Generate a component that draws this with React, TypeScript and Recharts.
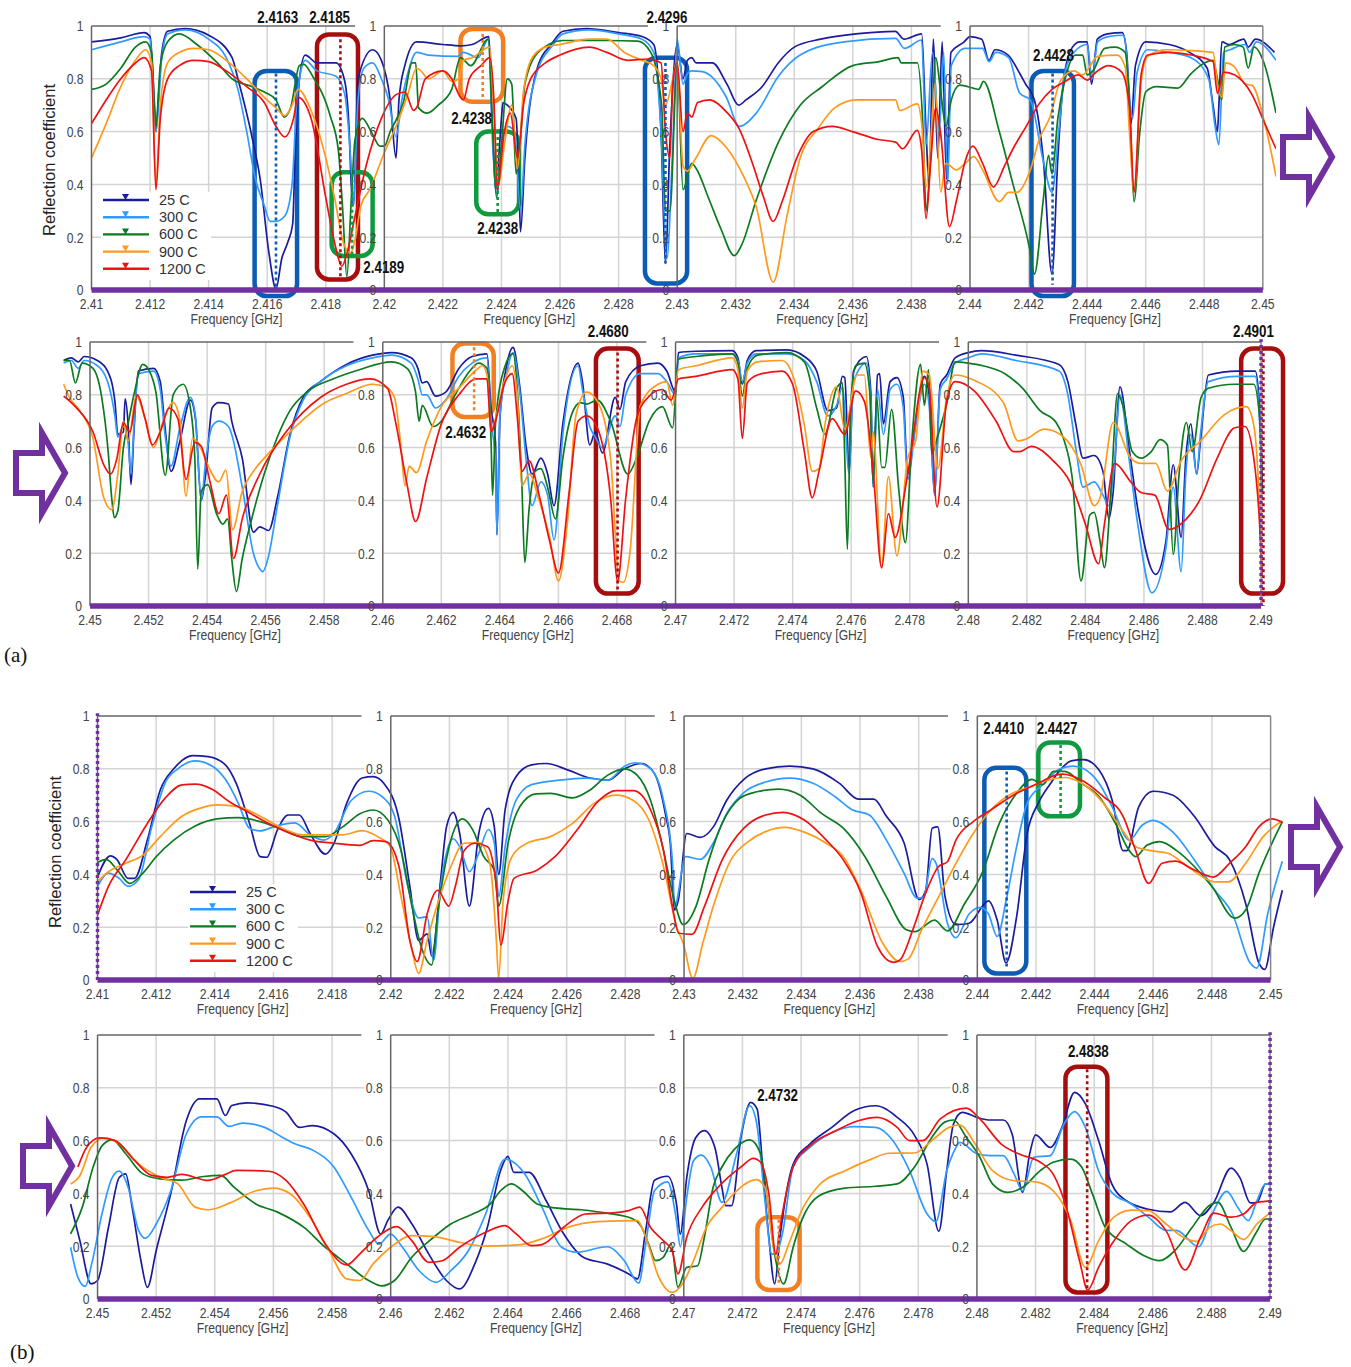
import React from 'react';
import { LineChart, Line, XAxis, YAxis, ReferenceLine, ReferenceArea, ReferenceDot, Legend } from 'recharts';

// frequencies are MHz above 2400, so 12.2 reads as 2.4122 GHz
const a1_25 = [10,.94,11,.955,11.8,.975,12,.96,12.15,.7,12.2,.6,12.3,.75,12.4,.9,12.6,.98,13.2,.99,14,.965,14.8,.88,15,.8,15.5,.57,15.76,.42,16.06,.14,16.3,.005,16.5,.12,16.7,.18,16.87,.25,16.95,.5,17.1,.8,17.3,.89,17.7,.86,18.35,.86,18.65,.79,18.8,.6,18.87,.4,18.95,.32,19.1,.8,19.6,.91,19.9,.87,20.2,.72,20.4,.5,20.5,.72,20.7,.85,21.1,.94,22,.93,22.6,.925,23,.93,23.57,.96,23.7,.6,23.8,.38,24,.65,24.05,.71,24.2,.7,24.5,.65,24.6,.4,24.65,.22,24.8,.5,25.25,.85,25.7,.93,26.1,.98,26.9,.99,28,.975,28.8,.96,29.2,.93,29.45,.6,29.6,.1,29.75,.55,30,.93,30.2,.8,30.35,.87,30.5,.88,30.65,.86,31.2,.86,31.7,.78,32.1,.7,32.35,.72,32.9,.77,33.45,.86,34,.92,34.9,.95,36.1,.97,37.45,.98,37.75,.95,38.35,.97,38.5,.6,38.6,.4,38.75,.95,38.9,.5,39.05,.94,39.2,.42,39.35,.9,39.8,.94,40,.96,40.4,.95,40.65,.87,40.85,.91,41.3,.89,41.7,.82,41.9,.78,42.2,.72,42.5,.5,42.8,.06,43,.5,43.2,.8,43.5,.92,43.75,.94,44,.94,44.15,.78,44.35,.95,44.7,.97,45.2,.975,45.35,.9,45.5,.63,45.65,.85,46,.94,46.8,.93,47.5,.9,48.1,.84,48.3,.7,48.45,.6,48.5,.7,48.6,.94,48.85,.93,49.35,.95,49.5,.92,49.75,.95,50.4,.9];
const a1_300 = [10,.91,11,.94,11.8,.96,12,.95,12.2,.6,12.4,.88,12.6,.97,13.2,.985,14,.95,14.6,.88,15,.76,15.3,.6,15.6,.42,15.9,.32,16.1,.26,16.3,.26,16.6,.28,16.85,.4,17,.7,17.15,.83,17.3,.87,17.7,.83,18.35,.81,18.65,.74,18.85,.5,18.95,.32,19.1,.72,19.3,.84,19.6,.86,19.9,.8,20.15,.72,20.4,.58,20.6,.72,20.8,.82,21.1,.9,21.5,.89,22.5,.885,22.7,.9,23.2,.88,23.55,.95,23.7,.55,23.85,.36,24,.55,24.2,.62,24.45,.6,24.65,.3,24.8,.55,25.2,.82,25.7,.92,26.1,.97,27,.985,28,.97,28.8,.95,29.2,.9,29.45,.6,29.65,.12,29.85,.55,30,.95,30.2,.78,30.35,.82,30.5,.83,30.86,.827,31.68,.73,32.12,.62,32.7,.67,33.46,.81,34.2,.89,35.7,.94,37.46,.953,37.76,.915,38.35,.947,38.5,.55,38.72,.9,38.95,.6,39.1,.9,39.24,.4,39.36,.85,39.84,.915,40.43,.915,40.65,.865,40.88,.9,41.32,.88,41.7,.745,42.06,.72,42.5,.49,42.8,.37,43.03,.6,43.25,.83,43.55,.9,44,.93,44.17,.8,44.36,.94,44.73,.96,45.25,.965,45.55,.65,45.7,.82,46.07,.91,46.8,.9,47.55,.88,48.15,.8,48.37,.62,48.5,.55,48.66,.9,48.88,.91,49.4,.93,49.55,.9,49.78,.94,50.45,.87];
const a1_600 = [10,.76,10.5,.78,11,.84,11.5,.92,11.85,.94,12.05,.9,12.2,.62,12.35,.85,12.6,.94,13,.97,13.6,.93,14.3,.86,14.8,.8,15.5,.77,15.9,.75,16.3,.72,16.58,.655,16.8,.69,17.1,.85,17.25,.855,17.55,.81,18.15,.66,18.43,.53,18.58,.3,18.72,.05,18.87,.34,19,.57,19.25,.65,19.55,.6,19.85,.545,20,.545,20.2,.6,20.65,.71,20.95,.86,21.07,.86,21.17,.69,21.47,.67,21.84,.7,22.3,.76,22.6,.88,22.95,.85,23.55,.95,23.7,.6,23.83,.35,24,.55,24.2,.8,24.35,.78,24.5,.44,24.6,.5,24.8,.78,25.25,.9,26.1,.945,27.6,.945,28.65,.943,29.1,.9,29.47,.7,29.6,.3,29.75,.3,30,.85,30.2,.38,30.5,.48,30.65,.46,31.1,.34,31.5,.23,31.95,.13,32.2,.17,32.7,.34,33.46,.56,34.2,.7,34.95,.77,36,.85,36.9,.865,37.55,.88,37.65,.86,38.2,.86,38.4,.6,38.5,.3,38.65,.5,38.83,.88,39,.75,39.18,.62,39.36,.72,39.65,.776,40.13,.764,40.3,.76,40.46,.79,41,.6,41.47,.4,42.03,.16,42.2,.06,42.5,.34,42.68,.51,42.8,.44,43,.65,43.25,.8,43.6,.89,43.85,.89,44,.815,44.2,.83,44.6,.915,44.95,.92,45.3,.9,45.45,.7,45.6,.335,45.8,.6,46,.75,46.37,.77,47.1,.765,47.55,.82,48.3,.87,48.45,.8,48.6,.72,48.7,.92,49.03,.93,49.33,.92,49.5,.84,49.7,.92,50.07,.85,50.45,.67];
const a1_900 = [10,.5,10.5,.63,11,.77,11.5,.87,11.85,.91,12.05,.86,12.2,.4,12.35,.7,12.6,.86,13,.9,13.5,.915,14,.91,14.6,.87,15.3,.8,15.9,.73,16.3,.69,16.6,.66,16.85,.7,17.05,.76,17.5,.68,18,.5,18.3,.35,18.6,.18,18.85,.14,19,.19,19.2,.32,19.5,.38,20,.52,20.4,.62,20.8,.74,21.1,.84,21.25,.83,21.5,.8,22,.83,22.3,.79,22.55,.8,22.7,.87,23,.88,23.6,.92,23.75,.65,23.9,.4,24.1,.55,24.35,.7,24.55,.46,24.75,.75,25.05,.88,25.5,.92,26,.93,27,.95,27.6,.95,28.2,.9,28.8,.87,29.2,.85,29.45,.8,29.6,.7,29.85,.8,30,.87,30.2,.47,30.35,.45,30.64,.5,31.16,.585,31.68,.54,32.27,.43,32.7,.315,33.28,.03,33.75,.28,34.2,.5,34.8,.61,35.38,.69,36.13,.72,37.46,.72,37.6,.68,38.2,.705,38.35,.63,38.5,.39,38.65,.55,38.8,.78,39,.37,39.17,.48,39.54,.455,39.84,.48,40.13,.505,40.43,.455,41,.335,41.32,.37,41.6,.37,42.06,.455,42.36,.57,42.73,.655,43.1,.795,43.55,.83,43.85,.815,44.36,.885,45.03,.89,45.3,.845,45.45,.59,45.6,.37,45.85,.795,46.07,.885,46.67,.91,47.55,.907,48.3,.9,48.45,.78,48.6,.73,48.73,.86,49.03,.845,49.4,.78,49.63,.775,50.07,.63,50.45,.43];
const a1_1200 = [10,.63,10.5,.72,11,.8,11.5,.86,11.8,.88,12.05,.83,12.2,.38,12.35,.65,12.6,.8,13,.85,13.5,.87,14,.865,14.6,.83,15.3,.77,15.9,.71,16.3,.62,16.6,.58,16.9,.65,17.05,.73,17.5,.65,18,.35,18.3,.18,18.55,.09,18.75,.15,19,.28,19.4,.48,19.9,.65,20.4,.74,20.7,.75,21,.68,21.1,.69,21.4,.8,22,.83,22.3,.8,22.6,.73,22.7,.72,22.9,.8,23.3,.85,23.6,.88,23.75,.7,23.85,.38,24.1,.6,24.3,.67,24.55,.5,24.75,.7,25,.8,25.5,.86,26,.89,27,.92,27.6,.9,28.3,.87,29,.875,29.45,.86,29.6,.6,29.75,.5,29.85,.78,30,.86,30.2,.6,30.35,.67,30.5,.655,30.7,.71,31.1,.72,31.68,.675,32.12,.61,32.57,.48,32.94,.355,33.28,.26,33.6,.34,34.05,.49,34.65,.6,35.3,.62,35.98,.6,36.87,.57,37.46,.56,37.7,.535,38.2,.605,38.35,.53,38.5,.27,38.65,.47,38.83,.69,39,.59,39.3,.24,39.54,.34,39.84,.49,40.1,.545,40.43,.48,40.8,.39,41.18,.47,41.47,.535,41.92,.62,42.36,.705,42.8,.76,43.25,.79,43.7,.815,44,.795,44.3,.825,44.73,.85,45.18,.825,45.45,.69,45.6,.37,45.85,.82,46.07,.89,46.8,.9,47.55,.89,48.3,.865,48.45,.745,48.66,.825,49.03,.815,49.63,.74,50.07,.63,50.45,.535];

const a2_25 = [49.1,.93,49.36,.94,49.6,.925,49.8,.945,50.25,.93,50.6,.89,50.85,.775,50.95,.65,51.14,.66,51.2,.785,51.3,.69,51.4,.46,51.5,.66,51.65,.89,52.17,.9,52.4,.85,52.55,.69,52.77,.51,53.06,.62,53.43,.78,53.6,.71,53.8,.4,53.95,.5,54.17,.75,54.4,.77,54.73,.765,54.84,.7,55.2,.56,55.58,.28,55.8,.3,56.1,.286,56.4,.41,56.83,.65,57.28,.79,57.87,.85,58.76,.915,59.65,.95,60.3,.96,60.97,.94,61.2,.9,61.35,.845,61.5,.85,61.8,.795,62.15,.81,62.6,.9,63.05,.945,63.56,.955,63.7,.75,63.85,.62,63.9,.27,64,.71,64.23,.91,64.45,.98,64.67,.84,64.9,.6,65.1,.5,65.4,.56,65.63,.5,65.85,.38,66.15,.69,66.67,.92,66.82,.85,67.07,.61,67.26,.66,67.5,.58,67.94,.79,68.1,.745,68.3,.85,68.8,.91,69.4,.92,69.7,.89,70,.81,70.1,.96,70.7,.965,71.94,.967,72.13,.94,72.28,.84,72.45,.93,72.75,.967,73.8,.97,74.4,.945,74.82,.89,75.2,.74,75.5,.75,75.7,.87,75.78,.865,75.93,.51,76.08,.89,76.52,.945,76.67,.81,76.75,.45,76.9,.875,76.97,.88,77.1,.69,77.33,.85,77.56,.865,77.78,.79,77.93,.5,78.2,.69,78.5,.87,78.67,.79,78.85,.42,79.04,.84,79.26,.875,79.55,.94,80,.96,80.45,.967,81.63,.95,83.1,.915,83.4,.85,83.67,.69,83.92,.56,84.3,.57,84.6,.51,84.8,.33,84.95,.435,85.18,.83,85.5,.59,85.8,.36,86.4,.12,86.75,.245,87,.535,87.27,.26,87.43,.56,87.6,.69,87.8,.5,87.93,.625,88.2,.875,89.2,.89,89.8,.89,89.95,.75,90.03,.43];
const a2_300 = [49.1,.92,49.36,.93,49.6,.9,49.8,.93,50.25,.91,50.6,.85,50.85,.72,50.95,.64,51.14,.68,51.3,.62,51.4,.5,51.5,.68,51.65,.88,52.17,.89,52.4,.82,52.55,.66,52.77,.53,53.06,.67,53.43,.79,53.6,.72,53.8,.4,53.95,.55,54.17,.68,54.4,.7,54.73,.68,54.84,.65,55.2,.45,55.58,.2,55.8,.14,55.9,.13,56.1,.19,56.4,.38,56.83,.64,57.28,.78,57.87,.85,58.76,.91,59.65,.94,60.3,.95,60.97,.92,61.2,.86,61.35,.8,61.5,.8,61.8,.75,62.15,.78,62.6,.87,63.05,.92,63.56,.94,63.7,.7,63.85,.55,63.9,.27,64,.72,64.23,.88,64.45,.96,64.67,.82,64.9,.55,65.1,.38,65.4,.47,65.63,.42,65.85,.25,66.15,.65,66.67,.91,66.82,.82,67.07,.68,67.26,.64,67.5,.6,67.94,.72,68.1,.68,68.3,.8,68.8,.88,69.4,.88,69.7,.85,70,.8,70.1,.94,70.7,.955,71.94,.955,72.13,.93,72.28,.85,72.45,.92,72.75,.955,73.8,.955,74.4,.93,74.82,.85,75.2,.72,75.5,.76,75.7,.83,75.93,.5,76.08,.85,76.52,.92,76.67,.78,76.75,.45,76.9,.82,77.1,.65,77.33,.82,77.56,.84,77.78,.75,77.93,.48,78.2,.68,78.5,.84,78.67,.75,78.85,.42,79.04,.82,79.26,.86,79.55,.92,80,.94,80.45,.955,81.63,.93,83.1,.89,83.4,.8,83.67,.6,83.92,.45,84.3,.47,84.6,.42,84.8,.38,85,.55,85.18,.8,85.5,.55,85.8,.3,86.27,.05,86.75,.22,87,.45,87.27,.13,87.43,.5,87.6,.65,87.8,.5,87.93,.65,88.2,.85,89.2,.87,89.8,.87,89.95,.7,90.03,.43];
const a2_600 = [49.1,.93,49.3,.93,49.5,.845,49.73,.92,50.1,.9,50.4,.79,50.62,.585,50.74,.41,50.83,.335,50.95,.36,51.14,.6,51.3,.69,51.5,.8,51.8,.915,52.03,.89,52.25,.81,52.57,.495,52.84,.8,53.18,.84,53.43,.75,53.58,.56,53.68,.14,53.8,.435,54.02,.46,54.32,.35,54.54,.31,54.7,.33,54.84,.18,55,.055,55.2,.18,55.5,.32,55.95,.5,56.4,.64,56.83,.74,57.4,.81,58.3,.86,59.2,.895,60.3,.925,60.83,.9,61.12,.81,61.24,.7,61.35,.76,61.72,.68,62,.7,62.45,.795,62.97,.89,63.27,.92,63.56,.9,63.7,.62,63.75,.42,63.85,.69,64.15,.9,64.45,.955,64.6,.81,64.75,.46,64.85,.165,65,.37,65.2,.51,65.4,.52,65.63,.45,65.9,.33,66.15,.56,66.45,.725,66.75,.77,66.97,.765,67.33,.78,67.78,.7,68.37,.5,68.67,.56,69.1,.7,69.55,.755,69.9,.675,70.1,.935,70.7,.945,71.94,.955,72.13,.92,72.28,.795,72.45,.9,72.8,.95,73.8,.96,74.4,.925,74.82,.75,75.1,.65,75.5,.825,75.7,.845,75.78,.56,75.87,.215,75.98,.75,76.15,.91,76.45,.92,76.63,.815,76.75,.465,76.87,.79,77.04,.525,77.15,.525,77.38,.745,77.63,.435,77.85,.24,78.07,.625,78.37,.915,78.5,.76,78.64,.895,78.75,.575,78.96,.645,79.26,.765,79.55,.925,80,.92,80.5,.91,81.25,.88,81.85,.825,82.45,.74,83,.695,83.25,.635,83.55,.485,83.85,.095,84.15,.345,84.3,.355,84.5,.245,84.65,.145,84.87,.435,85.1,.805,85.3,.75,85.6,.585,85.9,.56,86.25,.585,86.55,.63,86.8,.61,87,.195,87.2,.5,87.45,.695,87.65,.585,87.95,.79,88.2,.825,89.1,.84,89.75,.84,89.97,.685,90.05,.435];
const a2_900 = [49.1,.84,49.3,.79,49.65,.74,50.1,.635,50.47,.41,50.74,.365,50.95,.5,51.14,.7,51.3,.625,51.58,.795,51.88,.71,52.17,.6,52.47,.69,52.84,.77,53.06,.71,53.28,.415,53.5,.635,53.73,.61,54.02,.535,54.4,.47,54.64,.515,54.87,.29,55.2,.435,55.58,.51,55.95,.56,56.83,.66,58.02,.77,58.76,.805,59.65,.84,60.1,.83,60.4,.79,60.6,.625,60.76,.455,60.9,.53,61.15,.505,61.5,.625,62,.755,62.6,.825,63.2,.895,63.4,.91,63.56,.875,63.7,.66,63.85,.71,64.15,.85,64.42,.91,64.6,.79,64.75,.455,65,.5,65.34,.4,65.7,.26,66,.095,66.3,.31,66.6,.725,66.97,.81,67.33,.775,67.78,.56,68.08,.095,68.22,.09,68.45,.21,68.8,.76,69.4,.84,69.7,.85,69.9,.76,70.1,.895,70.7,.91,71.94,.94,72.13,.895,72.28,.75,72.45,.89,72.8,.925,73.64,.93,74,.875,74.4,.685,74.67,.51,74.9,.52,75.1,.685,75.5,.83,75.78,.67,76.2,.875,76.45,.875,76.67,.56,76.75,.66,77.04,.145,77.27,.49,77.56,.19,77.93,.56,78.2,.625,78.45,.89,78.67,.875,78.96,.52,79.26,.79,79.55,.875,80.2,.855,81.2,.77,81.7,.625,81.92,.63,82.6,.67,83.2,.645,83.85,.535,84.3,.38,84.5,.41,84.95,.695,85.55,.56,85.9,.54,86.4,.54,86.8,.435,87.27,.55,87.93,.625,88.75,.725,89.5,.755,89.75,.685,89.95,.37,90.03,.12];
const a2_1200 = [49.1,.795,49.5,.755,50.1,.66,50.47,.535,50.7,.5,50.92,.56,51.14,.695,51.36,.66,51.62,.8,51.88,.71,52.13,.61,52.4,.66,52.7,.75,53,.71,53.28,.48,53.58,.62,53.8,.605,54.1,.47,54.4,.35,54.66,.42,54.9,.18,55.2,.33,55.8,.5,56.7,.66,57.87,.79,58.76,.84,59.57,.86,60.16,.825,60.45,.69,60.83,.46,61.12,.32,61.5,.485,62,.69,62.6,.8,63.2,.86,63.56,.86,63.7,.66,63.85,.7,64.15,.84,64.42,.88,64.6,.71,64.75,.51,65,.55,65.34,.42,65.7,.245,66,.125,66.37,.435,66.67,.7,66.97,.72,67.33,.675,67.78,.41,68.02,.095,68.3,.41,68.67,.71,69.1,.795,69.55,.82,69.85,.78,70.1,.86,70.7,.87,71.94,.895,72.13,.86,72.28,.635,72.45,.845,72.8,.875,73.64,.89,74,.84,74.4,.585,74.67,.41,74.9,.51,75.35,.71,75.78,.65,76.15,.815,76.45,.775,76.75,.51,77.04,.145,77.27,.35,77.5,.26,77.93,.5,78.5,.865,78.67,.825,78.93,.375,79.26,.775,79.55,.85,80.2,.815,80.95,.7,81.55,.585,81.77,.585,82.15,.605,82.9,.55,83.47,.47,84,.31,84.45,.16,84.65,.31,85,.54,85.55,.47,85.9,.43,86.37,.42,86.85,.29,87.45,.33,87.9,.4,88.5,.56,89.1,.675,89.45,.68,89.75,.56,89.95,.31,90.03,.12];

const b1_25 = [10,.39,10.44,.47,10.67,.455,11.04,.385,11.26,.385,11.7,.53,12.14,.72,12.6,.8,13.25,.85,13.77,.846,14.36,.815,14.73,.745,15.18,.595,15.55,.467,15.77,.465,16.14,.57,16.5,.625,16.88,.625,17.25,.555,17.77,.477,18.06,.517,18.5,.67,19.02,.765,19.4,.77,19.76,.745,20.28,.61,20.65,.355,20.95,.15,21.24,.175,21.4,.09,21.7,.38,21.9,.58,22.13,.635,22.35,.555,22.68,.28,23,.555,23.33,.65,23.53,.58,23.68,.4,23.9,.645,24.27,.77,24.8,.815,25.3,.82,26.05,.795,26.8,.765,27.4,.757,27.97,.8,28.56,.82,29,.78,29.38,.62,29.53,.52,29.67,.265,29.8,.3,30.09,.555,30.56,.54,31,.58,31.45,.68,32.04,.76,32.78,.8,33.6,.81,34.4,.8,35.3,.745,35.95,.685,36.47,.685,36.9,.62,37.5,.52,38.02,.305,38.24,.34,38.46,.575,38.65,.58,38.9,.315,39.27,.21,39.72,.215,40.38,.3,40.68,.225,40.98,.065,41.34,.24,41.7,.555,42.08,.67,42.5,.745,42.82,.795,43.2,.83,43.63,.835,44.15,.795,44.6,.68,44.97,.49,45.1,.49,45.5,.655,46,.715,46.67,.7,47.4,.62,48.1,.505,48.6,.455,49.15,.29,49.6,.065,49.8,.04,50.1,.2,50.4,.34];
const b1_300 = [10,.355,10.37,.405,10.74,.385,11.04,.355,11.4,.38,11.85,.58,12.3,.745,12.74,.8,13.33,.83,13.92,.81,14.36,.76,14.8,.67,15.18,.575,15.55,.565,16,.58,16.73,.595,17.25,.55,17.7,.53,18.06,.555,18.65,.68,19.25,.715,19.7,.695,20.13,.62,20.58,.355,20.95,.235,21.24,.24,21.46,.075,21.7,.355,22.13,.535,22.35,.505,22.68,.41,23,.48,23.33,.57,23.53,.52,23.68,.315,23.9,.505,24.27,.68,24.8,.74,25.75,.757,26.65,.765,27.4,.757,27.97,.81,28.34,.823,28.86,.8,29.3,.68,29.6,.455,29.68,.28,30.05,.467,30.56,.457,31,.52,31.45,.63,32.04,.71,32.78,.75,33.6,.765,34.4,.745,35.14,.695,35.73,.645,36.32,.625,36.9,.53,37.5,.405,37.95,.31,38.17,.315,38.46,.46,38.6,.44,38.98,.215,39.27,.16,39.72,.25,40.1,.275,40.38,.25,40.68,.165,40.98,.3,41.34,.505,41.7,.67,42.23,.74,42.82,.8,43.27,.81,43.63,.8,44.15,.745,44.6,.655,45.18,.53,45.63,.587,46,.605,46.67,.56,47.4,.455,48.1,.34,48.7,.25,49.3,.065,49.53,.045,49.9,.25,50.4,.45];
const b1_600 = [10,.445,10.3,.457,10.67,.417,11.1,.366,11.55,.405,12,.467,12.6,.53,13.33,.583,14.07,.61,14.8,.615,15.55,.6,16.3,.57,17,.543,17.77,.543,18.36,.58,18.95,.63,19.4,.644,19.9,.606,20.35,.49,20.72,.28,21,.14,21.4,.057,21.6,.25,22.05,.53,22.45,.61,22.8,.568,23.17,.467,23.53,.417,23.68,.28,24,.518,24.4,.656,24.95,.705,25.45,.707,26.2,.69,26.8,.72,27.4,.776,27.97,.8,28.4,.776,28.86,.68,29.3,.49,29.67,.3,29.97,.21,30.41,.28,30.85,.455,31.3,.593,31.9,.688,32.48,.713,33.22,.723,33.96,.7,34.7,.63,35.43,.575,36.17,.467,36.9,.315,37.58,.19,37.87,.183,38.54,.227,38.98,.186,39.57,.29,40.16,.404,40.75,.593,41.34,.707,41.86,.76,42.23,.74,42.6,.79,42.97,.79,43.56,.745,44.15,.695,44.74,.587,45.18,.49,45.4,.467,45.78,.51,46.22,.524,46.8,.49,47.4,.43,48,.354,48.78,.234,49.15,.265,49.6,.404,50.4,.6];
const b1_900 = [10,.372,10.37,.41,10.96,.442,11.55,.473,12.14,.543,12.88,.62,13.48,.65,14.07,.663,14.8,.657,15.55,.62,16.3,.575,17,.55,17.77,.55,18.36,.55,19.02,.566,19.55,.543,19.98,.505,20.35,.315,20.72,.114,20.95,.025,21.24,.15,21.6,.29,22.05,.43,22.5,.518,23,.52,23.38,.44,23.6,.15,23.68,.006,23.83,.3,24.13,.467,24.65,.518,25.45,.543,26.2,.593,26.94,.67,27.68,.7,28.27,.68,28.8,.606,29.3,.43,29.75,.2,29.97,.14,30.3,.006,30.64,.14,31,.28,31.6,.455,32.19,.524,32.78,.562,33.44,.578,34.1,.56,34.85,.518,35.43,.467,36.03,.34,36.77,.14,37.36,.07,37.65,.08,38.1,.19,38.68,.315,39.27,.442,39.86,.555,40.46,.644,41.2,.707,41.8,.732,42.38,.757,42.97,.767,43.56,.745,44.3,.67,44.9,.575,45.4,.505,45.92,.49,46.5,.48,47.25,.423,48.1,.372,48.56,.372,49.15,.442,49.75,.543,50.4,.603];
const b1_1200 = [10,.246,10.37,.354,10.96,.455,11.7,.593,12.3,.688,12.88,.739,13.33,.742,13.92,.722,14.5,.675,15.1,.638,15.84,.593,16.58,.555,17.25,.53,18.06,.518,18.95,.51,19.4,.528,19.84,.524,20.28,.43,20.65,.15,20.9,.07,21.24,.25,21.6,.34,21.98,.28,22.2,.354,22.5,.49,22.87,.518,23.3,.505,23.6,.354,23.75,.133,24,.3,24.2,.385,25,.417,25.6,.467,26.35,.568,27.1,.68,27.68,.717,28.27,.717,28.86,.644,29.3,.49,29.6,.28,29.82,.177,30.27,.173,30.7,.28,31.3,.455,32.04,.575,32.78,.625,33.37,.635,34.1,.606,34.85,.53,35.43,.455,36.03,.33,36.6,.126,37.13,.067,37.36,.076,37.8,.19,38.24,.33,38.68,.43,38.98,.448,39.27,.53,39.86,.6,40.46,.644,41.34,.707,42.08,.745,42.67,.776,42.9,.78,43.56,.757,44.3,.695,44.97,.62,45.4,.49,45.84,.366,46.3,.442,46.75,.45,47.4,.417,48.05,.39,48.6,.442,49.15,.505,49.6,.58,50.05,.61,50.4,.597];

const b2_25 = [49.08,.36,49.4,.22,49.78,.057,50,.07,50.37,.27,50.74,.46,50.96,.474,51.18,.348,51.48,.145,51.7,.044,52,.183,52.5,.4,53.03,.676,53.48,.758,54.07,.758,54.36,.695,54.58,.733,55.1,.743,55.99,.73,56.43,.708,56.88,.65,57.32,.657,58.06,.626,58.65,.55,59.25,.41,59.66,.246,59.9,.297,60.25,.348,60.72,.285,61.3,.17,61.9,.07,62.35,.038,62.87,.133,63.3,.272,63.75,.487,64,.54,64.2,.48,64.72,.48,65.3,.373,65.9,.247,66.57,.158,67.38,.133,68.12,.095,68.42,.076,68.7,.26,69,.45,69.45,.465,69.75,.36,69.88,.246,70.1,.46,70.4,.61,70.7,.638,71.06,.574,71.3,.423,71.43,.354,71.63,.354,71.95,.612,72.28,.745,72.5,.72,72.7,.486,72.9,.234,73.1,.057,73.28,.234,73.73,.51,74.3,.587,75.05,.65,75.8,.713,76.54,.732,77.28,.688,77.87,.62,78.3,.51,78.7,.256,78.97,.486,79.2,.663,79.5,.707,80,.688,80.45,.678,80.9,.678,81.2,.625,81.56,.404,81.8,.55,82,.622,82.5,.574,82.9,.65,83.33,.783,83.7,.739,84.15,.6,84.6,.436,85.1,.372,85.85,.34,86.6,.33,87.1,.366,87.63,.316,88.08,.366,88.67,.496,88.97,.46,89.33,.364,89.55,.366,89.85,.436,90.07,.436];
const b2_300 = [49.08,.196,49.33,.082,49.58,.048,49.8,.133,50.15,.322,50.5,.46,50.74,.484,51.04,.424,51.4,.26,51.63,.23,52,.284,52.5,.41,53.03,.626,53.55,.69,54.07,.69,54.48,.654,54.95,.666,55.7,.65,56.3,.613,56.73,.588,57.32,.565,58.06,.5,58.65,.386,59.25,.26,59.6,.208,60,.246,60.4,.196,60.97,.107,61.55,.063,62.05,.107,62.65,.183,63.24,.322,63.9,.53,64.57,.474,65.16,.348,65.83,.196,66.35,.177,67.38,.198,67.97,.145,68.46,.06,68.7,.208,69,.41,69.45,.444,69.75,.297,69.88,.198,70.1,.385,70.33,.524,70.6,.545,70.92,.5,71.3,.366,71.8,.55,72.25,.732,72.47,.675,72.77,.372,73,.17,73.14,.17,73.36,.246,73.73,.5,74.3,.574,75.05,.63,75.8,.653,76.54,.65,77.13,.6,77.7,.486,78.3,.322,78.6,.293,78.97,.486,79.2,.555,79.42,.593,80,.55,80.45,.543,80.9,.543,81.27,.473,81.56,.41,81.94,.537,82.5,.543,82.97,.663,83.33,.71,83.7,.65,84.15,.486,84.6,.404,85.27,.36,85.85,.31,86.45,.26,86.8,.26,87.56,.198,88.08,.335,88.52,.408,88.9,.347,89.26,.297,89.55,.372,89.85,.436,90.07,.436];
const b2_600 = [49.08,.247,49.48,.348,49.85,.5,50.15,.58,50.5,.603,50.96,.55,51.55,.474,52.14,.455,52.88,.45,53.62,.464,54.2,.468,54.66,.423,55.4,.36,56.14,.329,57.03,.272,57.77,.196,58.5,.133,59.25,.07,59.7,.05,60.13,.07,60.72,.158,61.47,.234,62.05,.284,62.8,.322,63.4,.36,63.75,.41,64.12,.436,64.5,.41,65,.36,65.6,.345,66.5,.338,67.38,.325,68.27,.303,68.56,.272,68.8,.208,69.04,.145,69.3,.158,69.57,.208,69.8,.044,70.1,.12,70.47,.126,70.7,.234,71,.423,71.3,.5,71.73,.568,72.25,.603,72.62,.55,72.84,.385,73.14,.145,73.4,.057,73.73,.196,74.02,.297,74.6,.39,75.5,.42,76.54,.427,77.28,.436,77.87,.5,78.46,.612,78.9,.67,79.2,.678,79.64,.612,80.1,.537,80.53,.436,81.05,.404,81.56,.423,82.16,.486,82.6,.518,83.2,.53,83.57,.5,83.94,.398,84.38,.271,85.1,.208,85.7,.164,86.23,.145,86.75,.183,87.34,.271,87.93,.354,88.22,.366,88.67,.271,89.1,.18,89.5,.246,89.85,.303,90.07,.303];
const b2_900 = [49.08,.436,49.4,.468,49.78,.575,50.22,.61,50.74,.588,51.4,.512,52.14,.461,52.74,.436,53.33,.348,53.77,.338,54.5,.363,55.4,.41,56,.42,56.58,.398,57.32,.297,57.9,.183,58.5,.076,58.95,.07,59.4,.133,60,.196,60.72,.24,61.47,.236,62.35,.215,63.24,.2,64.43,.206,65.16,.228,66.05,.272,67.08,.293,68.42,.297,68.7,.234,69.15,.082,69.6,.025,69.95,.057,70.33,.145,70.77,.271,71.3,.347,71.8,.41,72.47,.452,72.77,.423,73.06,.196,73.28,.133,73.58,.208,74.02,.335,74.6,.43,75.5,.486,76.4,.53,77,.552,77.87,.553,78.46,.6,79.05,.65,79.42,.659,79.94,.587,80.53,.486,81.27,.448,82,.444,82.6,.41,83.2,.297,83.7,.12,84.15,.22,84.67,.31,85.27,.337,85.85,.335,86.45,.284,87.04,.234,87.5,.218,87.93,.271,88.3,.284,88.67,.259,89.1,.225,89.55,.284,90.07,.332];
const b2_1200 = [49.33,.5,49.63,.575,50.07,.61,50.6,.6,51.26,.525,51.85,.468,52.37,.461,52.88,.472,53.77,.449,54.36,.472,54.73,.487,55.84,.484,56.43,.449,57.03,.36,57.77,.208,58.5,.129,58.95,.171,59.54,.234,60.2,.274,60.72,.221,61.3,.139,61.76,.145,62.35,.196,63.24,.253,63.9,.278,64.28,.247,64.8,.202,65.16,.206,65.9,.272,66.64,.322,67.68,.327,68.12,.335,68.5,.348,68.86,.272,69.3,.221,69.6,.183,69.8,.095,70.1,.234,70.62,.347,71.06,.41,71.5,.46,71.95,.5,72.37,.533,72.62,.518,72.9,.398,73.14,.17,73.28,.271,73.73,.5,74.3,.58,75.2,.638,75.95,.675,76.6,.688,77.28,.65,77.7,.6,78.15,.6,78.75,.682,79.64,.723,80.1,.682,80.83,.587,81.42,.55,82.16,.518,82.6,.473,83.05,.347,83.5,.145,83.78,.034,84.15,.12,84.6,.208,85.27,.297,85.85,.318,86.45,.259,87.1,.11,87.63,.234,88.08,.325,88.67,.31,89.1,.322,89.55,.366,90.07,.372];

const seriesNames = ['25 C', '300 C', '600 C', '900 C', '1200 C'];
const seriesColors = ['#1b1b9e', '#2f9bff', '#0c7a1f', '#ff9a1c', '#f01212'];
const yTickValues = [0, 0.2, 0.4, 0.6, 0.8, 1];
const PURPLE = '#7030a0';
const BLUE = '#0b5cb2';
const RED = '#a80d0d';
const GREEN = '#0f9a3e';
const ORANGE = '#f28022';

// highlight boxes: x1, x2, top, bottom, colour, dotted line x, dotted top, dotted bottom
const a1Boxes: any[] = [
  [15.57, 17.02, 0.83, -0.023, BLUE, 16.3, 0.82, 0],
  [17.7, 19.1, 0.968, 0.04, RED, 18.5, 0.95, 0.05],
  [18.2, 19.6, 0.446, 0.129, GREEN, 18.9, 0.44, 0.13],
  [22.6, 24.06, 0.989, 0.713, ORANGE, 23.36, 0.97, 0.72],
  [23.14, 24.6, 0.6, 0.287, GREEN, 23.87, 0.58, 0.29],
  [28.9, 30.34, 0.88, 0.025, BLUE, 29.6, 0.86, 0.1],
  [42.1, 43.55, 0.83, -0.023, BLUE, 42.82, 0.82, 0.02],
];
const a2Boxes: any[] = [
  [62.38, 63.79, 0.994, 0.716, ORANGE, 63.12, 0.98, 0.73],
  [67.28, 68.74, 0.975, 0.047, RED, 68.02, 0.96, 0.06],
  [89.32, 90.75, 0.975, 0.047, RED, 90.08, 0.98, 0],
];
const b1Boxes: any[] = [
  [40.24, 41.67, 0.804, 0.025, BLUE, 41, 0.79, 0.04],
  [42.08, 43.5, 0.9, 0.62, GREEN, 42.84, 0.89, 0.63],
];
const b2Boxes: any[] = [
  [72.51, 73.95, 0.31, 0.034, ORANGE, 73.24, 0.3, 0.05],
  [83.02, 84.45, 0.88, 0.025, RED, 83.76, 0.87, 0.03],
];

// bold peak labels: text, x, y
const a1Notes: any[] = [
  ['2.4163', 16.36, 1.035], ['2.4185', 18.13, 1.033], ['2.4189', 19.98, 0.088],
  ['2.4238', 22.98, 0.653], ['2.4238', 23.87, 0.234], ['2.4296', 29.65, 1.034], ['2.4428', 42.85, 0.89],
];
const a2Notes: any[] = [['2.4632', 62.83, 0.658], ['2.4680', 67.7, 1.04], ['2.4901', 89.74, 1.04]];
const b1Notes: any[] = [['2.4410', 40.9, 0.956], ['2.4427', 42.72, 0.956]];
const b2Notes: any[] = [['2.4732', 73.2, 0.773], ['2.4838', 83.8, 0.94]];

const SANS = '"Liberation Sans", sans-serif';

function toPoints(flat: number[]) {
  const out: { x: number; y: number }[] = [];
  for (let i = 0; i < flat.length; i += 2) out.push({ x: flat[i], y: flat[i + 1] });
  return out;
}

// the source text is tall and condensed, no narrow face is installed so squeeze it
function squeezed(value: string, size: number, anchor: string, dx: number, weight: number, fill: string) {
  return (p: any) => (
    <text
      transform={`translate(${p.cx + dx},${p.cy + size * 0.36}) scale(0.81,1)`}
      textAnchor={anchor as any}
      fontSize={size}
      fontWeight={weight}
      fill={fill}
      fontFamily={SANS}
    >
      {value}
    </text>
  );
}

function XTick({ x, y, payload }: any) {
  return (
    <text transform={`translate(${x},${y + 7}) scale(0.81,1)`} textAnchor="middle" fontSize={15} fill="#444" fontFamily={SANS}>
      {String((2400 + payload.value) / 1000)}
    </text>
  );
}

function LegendBox({ payload }: any) {
  return (
    <svg width={110} height={88} style={{ display: 'block', background: '#fff' }}>
      {(payload || []).map((p: any, i: number) => (
        <g key={p.value}>
          <line x1={2} x2={48} y1={8 + i * 17.2} y2={8 + i * 17.2} stroke={p.color} strokeWidth={2.4} />
          <polygon points={`21,${2 + i * 17.2} 28,${2 + i * 17.2} 24.5,${8 + i * 17.2}`} fill={p.color} />
          <text x={58} y={13 + i * 17.2} fontSize={14.5} fontFamily={SANS} fill="#333">
            {p.value}
          </text>
        </g>
      ))}
    </svg>
  );
}

function Row({ top, left, right, start, end, domain, series, boxes, notes, legendAt, purpleX }: any) {
  const panels = [start, start + 10, start + 20, start + 30];
  const ticks: number[] = [];
  for (let t = start; t <= end; t += 2) ticks.push(t);
  return (
    <div style={{ position: 'absolute', left: 0, top: top - 26 }}>
      <LineChart width={1351} height={336} margin={{ top: 26, bottom: 26, left, right: 1351 - right }}>
        <XAxis
          dataKey="x"
          type="number"
          domain={domain}
          allowDataOverflow
          ticks={ticks}
          interval={0}
          axisLine={false}
          tickLine={false}
          height={20}
          tickMargin={6}
          tick={XTick}
        />
        <YAxis hide type="number" domain={[0, 1]} />
        {ticks.filter((t) => (t - start) % 10 !== 0).map((t) => (
          <ReferenceLine key={'v' + t} x={t} stroke="#d4d4d4" strokeWidth={1.5} zIndex={-10} />
        ))}
        {panels.map((s) =>
          [0.2, 0.4, 0.6, 0.8].map((v) => (
            <ReferenceLine
              key={'h' + s + v}
              ifOverflow="visible"
              segment={[{ x: s, y: v }, { x: s === panels[3] ? s + 10 : s + 9.1, y: v }]}
              stroke="#d4d4d4"
              strokeWidth={1.5}
              zIndex={-10}
            />
          )),
        )}
        {series.map((flat: number[], i: number) => (
          <Line
            key={seriesNames[i]}
            name={seriesNames[i]}
            type="monotoneX"
            data={toPoints(flat)}
            dataKey="y"
            stroke={seriesColors[i]}
            strokeWidth={1.7}
            dot={false}
            isAnimationActive={false}
          />
        ))}
        {panels.map((s) => (
          <ReferenceLine
            key={'top' + s}
            ifOverflow="visible"
            segment={[{ x: s, y: 1 }, { x: s === panels[3] ? s + 10 : s + 9, y: 1 }]}
            stroke="#666"
            strokeWidth={1.5}
          />
        ))}
        {panels.map((s) => (
          <ReferenceLine key={'ax' + s} ifOverflow="visible" segment={[{ x: s, y: 0 }, { x: s, y: 1 }]} stroke="#666" strokeWidth={1.5} />
        ))}
        <ReferenceLine ifOverflow="visible" segment={[{ x: start + 40, y: 0 }, { x: start + 40, y: 1 }]} stroke="#888" strokeWidth={1.5} />
        <ReferenceLine ifOverflow="visible" segment={[{ x: start, y: 0 }, { x: start + 40, y: 0 }]} stroke={PURPLE} strokeWidth={5.5} />
        {purpleX !== undefined && (
          <ReferenceLine
            ifOverflow="visible"
            segment={[{ x: purpleX, y: 0 }, { x: purpleX, y: 1.01 }]}
            stroke={PURPLE}
            strokeWidth={3.5}
            strokeDasharray="3 3"
          />
        )}
        {panels.map((s) =>
          yTickValues.map((v) => (
            <ReferenceDot
              key={'yt' + s + v}
              x={s}
              y={v}
              r={0}
              ifOverflow="visible"
              shape={squeezed(String(v), 15, 'end', -8, 400, '#444')}
            />
          )),
        )}
        {panels.map((s) => (
          <ReferenceDot
            key={'fq' + s}
            x={s + 4.95}
            y={-0.108}
            r={0}
            ifOverflow="visible"
            shape={squeezed('Frequency [GHz]', 15, 'middle', 0, 400, '#444')}
          />
        ))}
        {boxes.map((b: any[], i: number) => (
          <React.Fragment key={'b' + i}>
            <ReferenceLine
              ifOverflow="visible"
              segment={[{ x: b[5], y: b[6] }, { x: b[5], y: b[7] }]}
              stroke={b[4]}
              strokeWidth={2.6}
              strokeDasharray="3 3"
            />
            <ReferenceArea
              ifOverflow="visible"
              x1={b[0]}
              x2={b[1]}
              y1={b[3]}
              y2={b[2]}
              fill="none"
              fillOpacity={0}
              stroke={b[4]}
              strokeWidth={4.5}
              radius={12}
            />
          </React.Fragment>
        ))}
        {notes.map((n: any[], i: number) => (
          <ReferenceDot
            key={'n' + i}
            x={n[1]}
            y={n[2]}
            r={0}
            ifOverflow="visible"
            shape={squeezed(n[0], 16.5, 'middle', 0, 700, '#111')}
          />
        ))}
        {legendAt && (
          <Legend
            layout="vertical"
            align="center"
            verticalAlign="middle"
            itemSorter={null}
            content={LegendBox}
            wrapperStyle={{ left: legendAt[0], top: legendAt[1], width: 110, height: 88 }}
          />
        )}
      </LineChart>
    </div>
  );
}

function Arrow({ x, cy }: { x: number; cy: number }) {
  const points = [
    [x + 3, cy - 20], [x + 29, cy - 20], [x + 29, cy - 40], [x + 52, cy],
    [x + 29, cy + 40], [x + 29, cy + 20], [x + 3, cy + 20],
  ].map((p) => p.join(',')).join(' ');
  return <polygon points={points} fill="#fff" stroke={PURPLE} strokeWidth={6} />;
}

export default function App() {
  return (
    <div style={{ position: 'absolute', left: 0, top: 0, width: 1351, height: 1367, background: '#fff', overflow: 'hidden' }}>
      <Row
        top={26}
        left={91.5}
        right={1276}
        start={10}
        end={50}
        domain={[10, 50.45]}
        series={[a1_25, a1_300, a1_600, a1_900, a1_1200]}
        boxes={a1Boxes}
        notes={a1Notes}
        legendAt={[101, 192]}
      />
      <Row
        top={342}
        left={62.2}
        right={1264}
        start={50}
        end={90}
        domain={[49.05, 90.1]}
        series={[a2_25, a2_300, a2_600, a2_900, a2_1200]}
        boxes={a2Boxes}
        notes={a2Notes}
        purpleX={90}
      />
      <Row
        top={716}
        left={97.5}
        right={1283.8}
        start={10}
        end={50}
        domain={[10, 50.45]}
        series={[b1_25, b1_300, b1_600, b1_900, b1_1200]}
        boxes={b1Boxes}
        notes={b1Notes}
        legendAt={[188, 194]}
        purpleX={10}
      />
      <Row
        top={1034.5}
        left={69.7}
        right={1273}
        start={50}
        end={90}
        domain={[49.05, 90.1]}
        series={[b2_25, b2_300, b2_600, b2_900, b2_1200]}
        boxes={b2Boxes}
        notes={b2Notes}
        purpleX={90}
      />
      <svg width={1351} height={1367} style={{ position: 'absolute', left: 0, top: 0, pointerEvents: 'none' }}>
        <Arrow x={1280} cy={157} />
        <Arrow x={13} cy={473} />
        <Arrow x={1288} cy={847} />
        <Arrow x={20} cy={1166} />
        <text x={55} y={160} transform="rotate(-90 55 160)" textAnchor="middle" fontSize={16.5} fill="#222" fontFamily={SANS}>
          Reflection coefficient
        </text>
        <text x={61} y={852} transform="rotate(-90 61 852)" textAnchor="middle" fontSize={16.5} fill="#222" fontFamily={SANS}>
          Reflection coefficient
        </text>
        <text x={4} y={662} fontSize={21} fill="#111" fontFamily='"Liberation Serif", serif'>(a)</text>
        <text x={10} y={1359} fontSize={21} fill="#111" fontFamily='"Liberation Serif", serif'>(b)</text>
      </svg>
    </div>
  );
}
